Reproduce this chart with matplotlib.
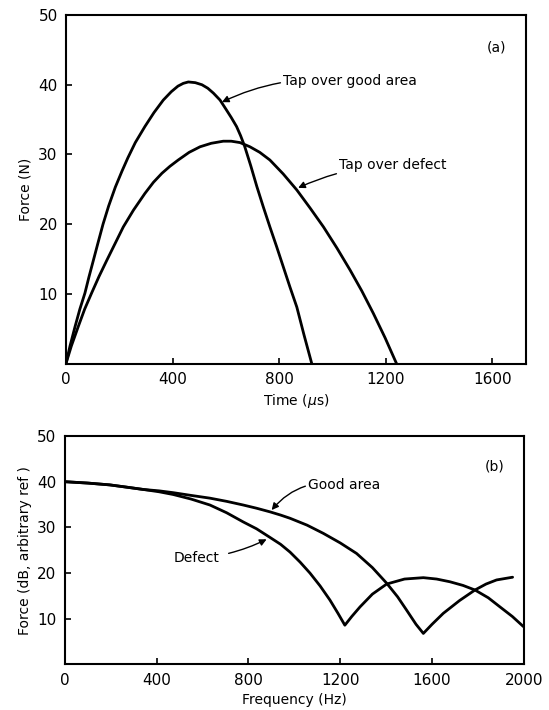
import matplotlib.pyplot as plt

# (a) force pulse, time in microseconds
good_t = [0, 15, 34, 52, 71, 86, 102, 120, 139, 160, 185, 210, 232, 260, 296, 330, 365, 395, 420,
          440, 459, 485, 510, 532, 553, 578, 600, 620, 640, 655, 670, 693, 716, 740, 765, 790, 815,
          840, 866, 893, 922]
good_f = [0, 2.5, 5.3, 7.8, 10.1, 12.4, 14.7, 17.3, 20.0, 22.6, 25.3, 27.6, 29.5, 31.7, 34.0, 36.0,
          37.8, 39.0, 39.8, 40.2, 40.4, 40.3, 40.0, 39.5, 38.8, 37.8, 36.5, 35.3, 34.0, 32.7, 31.2,
          28.4, 25.4, 22.5, 19.6, 16.8, 13.9, 11.0, 8.1, 4.1, 0]
defect_t = [0, 20, 46, 70, 96, 124, 153, 184, 215, 253, 296, 328, 360, 390, 421, 462, 503, 545, 590,
            620, 653, 690, 727, 765, 815, 866, 916, 966, 1016, 1066, 1110, 1153, 1197, 1240]
defect_f = [0, 2.5, 5.3, 7.8, 10.1, 12.5, 14.8, 17.2, 19.6, 22.0, 24.4, 26.0, 27.3, 28.3, 29.2, 30.3,
            31.1, 31.6, 31.9, 31.9, 31.7, 31.1, 30.3, 29.2, 27.2, 24.9, 22.3, 19.6, 16.6, 13.4, 10.4,
            7.2, 3.7, 0]

# (b) spectrum, frequency in Hz
good_hz = [0, 100, 196, 270, 342, 410, 472, 550, 632, 705, 777, 835, 894, 940, 981, 1055, 1126, 1200,
           1271, 1340, 1402, 1450, 1489, 1530, 1562, 1600, 1649, 1720, 1787, 1835, 1881, 1951]
good_db = [40, 39.7, 39.3, 38.8, 38.3, 38.0, 37.6, 37.0, 36.4, 35.7, 34.9, 34.2, 33.4, 32.7, 32.0,
           30.5, 28.7, 26.6, 24.3, 21.2, 17.8, 14.8, 11.9, 8.8, 6.8, 8.8, 11.2, 14.0, 16.3, 17.6,
           18.5, 19.1]
defect_hz = [0, 100, 196, 270, 342, 410, 472, 550, 632, 705, 777, 835, 894, 940, 981, 1025, 1068, 1112,
             1155, 1190, 1220, 1250, 1286, 1340, 1402, 1480, 1562, 1620, 1678, 1735, 1787, 1845,
             1896, 1950, 1998]
defect_db = [40, 39.7, 39.3, 38.8, 38.3, 37.8, 37.2, 36.2, 34.9, 33.2, 31.2, 29.7, 27.8, 26.3, 24.6,
             22.4, 20.0, 17.2, 14.1, 11.2, 8.6, 10.5, 12.6, 15.4, 17.6, 18.7, 19.0, 18.7, 18.1, 17.3,
             16.3, 14.6, 12.6, 10.5, 8.3]

time_ticks = [0, 400, 800, 1200, 1600]
freq_ticks = [0, 400, 800, 1200, 1600, 2000]
force_ticks = [10, 20, 30, 40, 50]

plt.rcParams['font.family'] = ['DejaVu Sans']
plt.rcParams['font.size'] = 11

fig = plt.figure(figsize=(5.49, 7.10), dpi=100)
ax1 = fig.add_axes([0.1202, 0.488, 0.838, 0.4908])
ax2 = fig.add_axes([0.1182, 0.0641, 0.836, 0.3218])

lw = 2.0
for t, f in ((good_t, good_f), (defect_t, defect_f)):
    ax1.plot(t, f, color='black', lw=lw, solid_joinstyle='round', solid_capstyle='round')
ax1.set_xlim(0, 1726)
ax1.set_ylim(0, 50)
ax1.set_xticks(time_ticks)
ax1.set_yticks(force_ticks)
ax1.set_xlabel('Time ($\\mu$s)', fontsize=10)
ax1.set_ylabel('Force (N)', fontsize=10)
ax1.text(1617, 45.3, '(a)', ha='center', va='center', fontsize=10)
ax1.annotate('Tap over good area', xy=(585, 37.5), xytext=(815, 40.5),
             fontsize=10, ha='left', va='center',
             arrowprops=dict(arrowstyle='-|>', color='black', lw=1.0,
                             connectionstyle='arc3,rad=0.15', shrinkA=0, shrinkB=0))
ax1.annotate('Tap over defect', xy=(871, 25.2), xytext=(1025, 28.5),
             fontsize=10, ha='left', va='center',
             arrowprops=dict(arrowstyle='-|>', color='black', lw=1.0,
                             connectionstyle='arc3,rad=0.1', shrinkA=0, shrinkB=0))

for hz, db in ((good_hz, good_db), (defect_hz, defect_db)):
    ax2.plot(hz, db, color='black', lw=lw, solid_joinstyle='round', solid_capstyle='round')
ax2.set_xlim(0, 2000)
ax2.set_ylim(0, 50)
ax2.set_xticks(freq_ticks)
ax2.set_yticks(force_ticks)
ax2.set_xlabel('Frequency (Hz)', fontsize=10)
ax2.set_ylabel('Force (dB, arbitrary ref )', fontsize=10)
ax2.text(1874, 43.3, '(b)', ha='center', va='center', fontsize=10)
ax2.annotate('Good area', xy=(901, 33.8), xytext=(1060, 39.3),
             fontsize=10, ha='left', va='center',
             arrowprops=dict(arrowstyle='-|>', color='black', lw=1.0,
                             connectionstyle='arc3,rad=0.3', shrinkA=0, shrinkB=0))
ax2.annotate('Defect', xy=(879, 27.4), xytext=(472, 23.2),
             fontsize=10, ha='left', va='center',
             arrowprops=dict(arrowstyle='-|>', color='black', lw=1.0,
                             connectionstyle='arc3,rad=0.1', shrinkA=5, shrinkB=0))

for ax in (ax1, ax2):
    for s in ax.spines.values():
        s.set_linewidth(1.5)
    ax.tick_params(direction='in', length=4, width=1.2, labelsize=11, pad=6)

plt.savefig('out.png', dpi=100)
